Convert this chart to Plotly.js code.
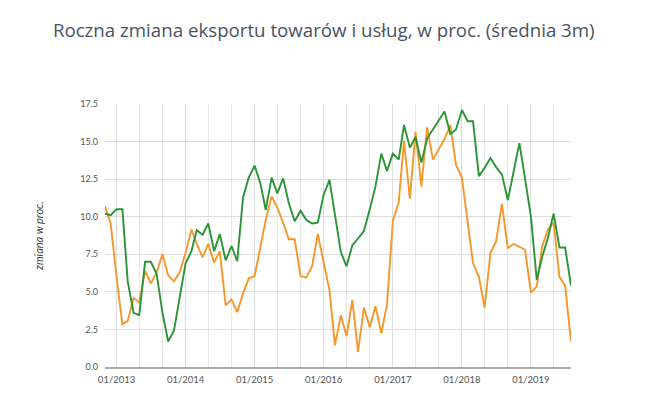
<!DOCTYPE html>
<html>
<head>
<meta charset="utf-8">
<script src="https://cdn.plot.ly/plotly-3.0.1.min.js"></script>
<style>
    html, body { margin: 0; padding: 0; background: #ffffff; }
    #chart { width: 645px; height: 410px; }
</style>
</head>
<body>
<div id="chart"></div>
<script>
// monthly series, 11/2012 .. 08/2019
const START_YEAR = 2012;
const START_MONTH = 11;

const greenSeries = [
    10.2, 10.1, 10.5, 10.5, 5.7, 3.6, 3.45, 7.0, 7.0, 6.2, 3.6, 1.7,
    2.45, 4.7, 6.9, 7.7, 9.1, 8.8, 9.55, 7.7, 8.85, 7.1, 8.05, 7.05,
    11.3, 12.6, 13.4, 12.2, 10.45, 12.6, 11.55, 12.55, 10.9, 9.7, 10.4, 9.8,
    9.55, 9.6, 11.45, 12.45, 10.0, 7.65, 6.7, 8.1, 8.55, 9.05, 10.5, 12.0,
    14.2, 13.05, 14.2, 13.8, 16.1, 14.6, 15.3, 13.6, 15.2, 15.8, 16.4, 17.0,
    15.5, 15.8, 17.1, 16.35, 16.35, 12.7, 13.25, 13.9, 13.3, 12.8, 11.1, 12.9,
    14.9, 12.55, 10.0, 5.8, 7.3, 8.6, 10.2, 7.95, 7.95, 5.4,
];

const orangeSeries = [
    10.7, 9.55, 6.0, 2.85, 3.05, 4.6, 4.3, 6.4, 5.55, 6.3, 7.5, 6.1,
    5.7, 6.3, 7.6, 9.15, 8.2, 7.3, 8.2, 6.95, 7.7, 4.1, 4.5, 3.65,
    4.9, 5.9, 6.05, 7.9, 9.8, 11.35, 10.6, 9.6, 8.5, 8.5, 6.05, 5.95,
    6.7, 8.85, 7.0, 5.1, 1.45, 3.45, 2.05, 4.45, 1.0, 3.95, 2.65, 4.05,
    2.25, 4.15, 9.7, 10.95, 15.05, 11.2, 15.65, 12.0, 15.95, 13.8, 14.5, 15.15,
    16.1, 13.45, 12.6, 9.5, 6.9, 6.0, 3.95, 7.6, 8.35, 10.85, 7.9, 8.2,
    8.0, 7.8, 4.95, 5.35, 8.0, 9.15, 9.6, 6.0, 5.4, 1.7,
];

const yTicks = [0, 2.5, 5, 7.5, 10, 12.5, 15, 17.5];

const GREEN = "#2b9437";
const ORANGE = "#f6972b";


function buildMonths(year, month, count) {
    const out = [];
    for (let i = 0; i < count; i++) {
        const y = year + Math.floor((month - 1 + i) / 12);
        const m = ((month - 1 + i) % 12) + 1;
        out.push(`${y}-${String(m).padStart(2, "0")}-01`);
    }
    return out;
}

const months = buildMonths(START_YEAR, START_MONTH, greenSeries.length);

const traces = [
    {
        type: "scatter",
        mode: "lines",
        x: months,
        y: orangeSeries,
        line: { color: ORANGE, width: 1.9 },
        hoverinfo: "skip",
        showlegend: false,
    },
    {
        type: "scatter",
        mode: "lines",
        x: months,
        y: greenSeries,
        line: { color: GREEN, width: 1.9 },
        hoverinfo: "skip",
        showlegend: false,
    },
];

const layout = {
    width: 645,
    height: 410,
    margin: { t: 104, r: 74, b: 43, l: 105 },
    paper_bgcolor: "#ffffff",
    plot_bgcolor: "#ffffff",
    showlegend: false,
    title: {
        text: "Roczna zmiana eksportu towarów i usług, w proc. (średnia 3m)",
        x: 0.082,
        xanchor: "left",
        y: 0.925,
        yanchor: "middle",
        font: { family: "\"Open Sans\", sans-serif", size: 18.7, color: "#4a5363" },
    },
    font: { family: "Lato, sans-serif", size: 9, color: "#666666" },
    xaxis: {
        type: "date",
        range: [months[0], months[months.length - 1]],
        tick0: "2013-01-01",
        dtick: "M12",
        tickformat: "%m/%Y",
        ticks: "",
        showgrid: true,
        gridcolor: "#dddddd",
        gridwidth: 1,
        minor: { dtick: "M4", tick0: "2013-01-01", showgrid: true, gridcolor: "#e6e6e6", gridwidth: 1 },
        showline: true,
        linecolor: "#aaaaaa",
        linewidth: 2,
        zeroline: false,
        fixedrange: true,
        ticklabelstandoff: 3,
        tickfont: { size: 9.5, color: "#555555" },
    },
    yaxis: {
        range: [0, 17.5],
        tickmode: "array",
        tickvals: yTicks,
        ticktext: yTicks.map((v) => v.toFixed(1)),
        ticks: "",
        showgrid: true,
        gridcolor: "#dddddd",
        gridwidth: 1,
        zeroline: false,
        showline: false,
        fixedrange: true,
        ticklabelstandoff: 6,
        tickfont: { size: 9, color: "#555555" },
        title: {
            text: "<i>zmiana w proc.</i>",
            standoff: 34,
            font: { size: 11, color: "#444444" },
        },
    },
};

Plotly.newPlot("chart", traces, layout, { displayModeBar: false, staticPlot: true });
</script>
</body>
</html>
